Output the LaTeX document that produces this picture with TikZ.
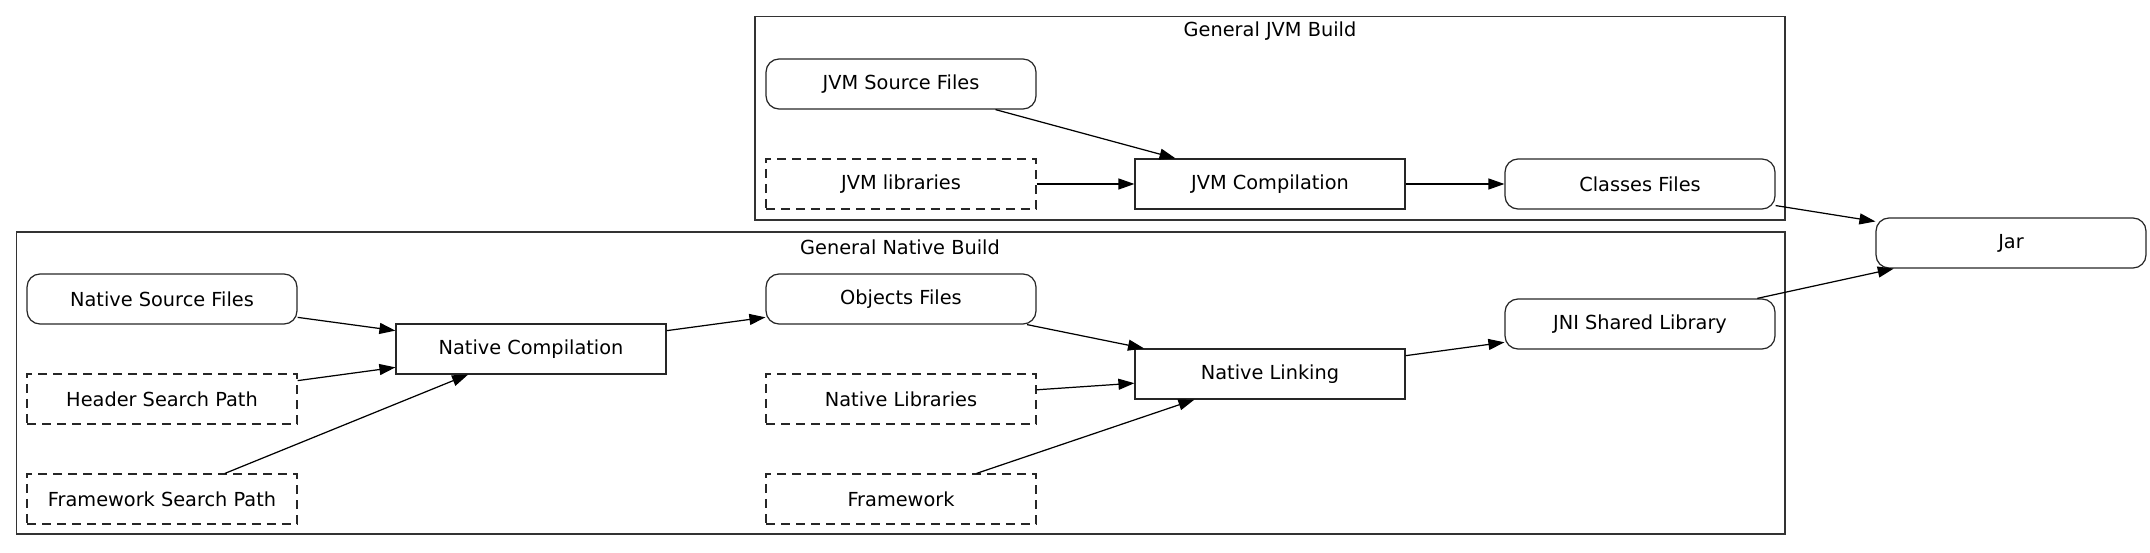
\documentclass[tikz,border=0pt]{standalone}
\usepackage{fontspec}
\setmainfont{DejaVu Sans}
\usetikzlibrary{arrows.meta}
\begin{document}
\begin{tikzpicture}[x=0.02cm, y=-0.02cm, >={Triangle[length=0.32cm,width=0.22cm]},
  every node/.style={font=\fontsize{11}{13}\selectfont},
  file/.style={draw=black!85, line width=0.7pt, rounded corners=0.26cm, minimum width=5.4cm, minimum height=1cm},
  extern/.style={draw=black!85, line width=0.7pt, dash pattern=on 0.18cm off 0.12cm, minimum width=5.4cm, minimum height=1cm},
  task/.style={draw=black!85, line width=0.7pt, minimum width=5.4cm, minimum height=1cm},
  link/.style={->, line width=0.7pt}]
\useasboundingbox (0,0) rectangle (2150,553);
% the two builds
\draw[black!80, line width=0.8pt](755,16.5) rectangle (1785,220);
\node (jvmtitle) at (1270,31) {General JVM Build};
\draw[black!80, line width=0.8pt](16.5,232) rectangle (1785,534);
\node (nattitle) at (900,247) {General Native Build};
% JVM side
\node[file] (jvmsrc) at (901,84) {JVM Source Files};
\node[extern] (jvmlib) at (901,184) {JVM libraries};
\node[task] (jvmcomp) at (1270,184) {JVM Compilation};
\node[file] (classes) at (1640,184) {Classes Files};
% native side
\node[file] (natsrc) at (162,299) {Native Source Files};
\node[extern] (header) at (162,399) {Header Search Path};
\node[extern] (fwpath) at (162,499) {Framework Search Path};
\node[task] (natcomp) at (531,349) {Native Compilation};
\node[file] (objects) at (901,299) {Objects Files};
\node[extern] (natlib) at (901,399) {Native Libraries};
\node[extern] (fw) at (901,499) {Framework};
\node[task] (natlink) at (1270,374) {Native Linking};
\node[file] (jni) at (1640,324) {JNI Shared Library};
\node[file] (jar) at (2011,243) {Jar};
\draw[link](jvmsrc)--(jvmcomp);
\draw[link](jvmlib)--(jvmcomp);
\draw[link](jvmcomp)--(classes);
\draw[link](classes)--(jar);
\draw[link](natsrc)--(natcomp);
\draw[link](header)--(natcomp);
\draw[link](fwpath)--(natcomp);
\draw[link](natcomp)--(objects);
\draw[link](objects)--(natlink);
\draw[link](natlib)--(natlink);
\draw[link](fw)--(natlink);
\draw[link](natlink)--(jni);
\draw[link](jni)--(jar);

\end{tikzpicture}
\end{document}
